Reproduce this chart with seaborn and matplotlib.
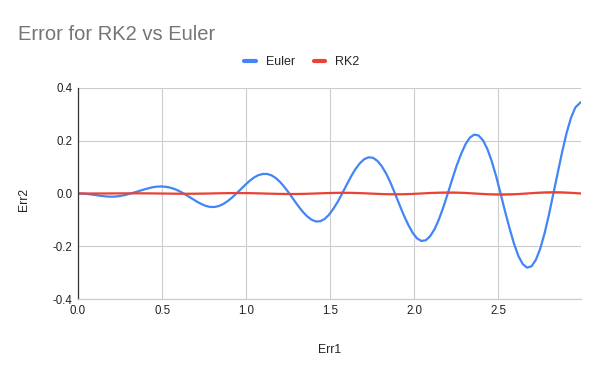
import matplotlib
matplotlib.use("Agg")
import matplotlib.pyplot as plt
import seaborn as sns
import pandas as pd
from matplotlib.lines import Line2D

# Data
err1_euler = [
    0.000, 0.026, 0.052, 0.079, 0.105, 0.131, 0.157, 0.183, 0.209, 0.236,
    0.262, 0.288, 0.314, 0.340, 0.367, 0.393, 0.419, 0.445, 0.471, 0.497,
    0.524, 0.550, 0.576, 0.602, 0.628, 0.654, 0.681, 0.707, 0.733, 0.759,
    0.785, 0.812, 0.838, 0.864, 0.890, 0.916, 0.942, 0.969, 0.995, 1.021,
    1.047, 1.073, 1.100, 1.126, 1.152, 1.178, 1.204, 1.230, 1.257, 1.283,
    1.309, 1.335, 1.361, 1.388, 1.414, 1.440, 1.466, 1.492, 1.518, 1.545,
    1.571, 1.597, 1.623, 1.649, 1.676, 1.702, 1.728, 1.754, 1.780, 1.806,
    1.833, 1.859, 1.885, 1.911, 1.937, 1.964, 1.990, 2.016, 2.042, 2.068,
    2.094, 2.121, 2.147, 2.173, 2.199, 2.225, 2.251, 2.278, 2.304, 2.330,
    2.356, 2.382, 2.409, 2.435, 2.461, 2.487, 2.513, 2.539, 2.566, 2.592,
    2.618, 2.644, 2.670, 2.697, 2.723, 2.749, 2.775, 2.801, 2.827, 2.854,
    2.880, 2.906, 2.932, 2.958, 2.990]

euler = [
    0.0, -0.00045, -0.00175, -0.0037, -0.0061, -0.0085, -0.0105, -0.0118, -0.0121, -0.0108,
    -0.0083, -0.0045, 0.0, 0.0049, 0.0100, 0.0152, 0.0199, 0.0237, 0.0260, 0.0266,
    0.0251, 0.0219, 0.0165, 0.0091, 0.0, -0.0101, -0.0205, -0.0308, -0.0398, -0.0469,
    -0.0510, -0.0512, -0.0476, -0.0399, -0.0290, -0.0155, 0.0, 0.0166, 0.0330, 0.0481,
    0.0606, 0.0696, 0.0740, 0.0739, 0.0684, 0.0576, 0.0420, 0.0224, 0.0, -0.0237,
    -0.0470, -0.0682, -0.0857, -0.0990, -0.1060, -0.1053, -0.0970, -0.0810, -0.0585, -0.0310,
    0.0, 0.0322, 0.0635, 0.0916, 0.1143, 0.1299, 0.1370, 0.1352, 0.1238, 0.1036,
    0.0750, 0.0398, 0.0, -0.0416, -0.0820, -0.1188, -0.1490, -0.1700, -0.1800, -0.1773,
    -0.1619, -0.1347, -0.0970, -0.0512, 0.0, 0.0530, 0.1040, 0.1495, 0.1862, 0.2116,
    0.2230, 0.2198, 0.2009, 0.1676, 0.1210, 0.0640, 0.0, -0.0666, -0.1310, -0.1888,
    -0.2356, -0.2671, -0.2810, -0.2758, -0.2511, -0.2086, -0.1500, -0.0790, 0.0, 0.0816,
    0.1600, 0.2305, 0.2875, 0.3265, 0.3460]

err1_rk2 = [
    0.000, 0.052, 0.105, 0.157, 0.209, 0.262, 0.314, 0.367, 0.419, 0.471,
    0.524, 0.576, 0.628, 0.681, 0.733, 0.785, 0.838, 0.890, 0.942, 0.995,
    1.047, 1.100, 1.152, 1.204, 1.257, 1.309, 1.361, 1.414, 1.466, 1.518,
    1.571, 1.623, 1.676, 1.728, 1.780, 1.833, 1.885, 1.937, 1.990, 2.042,
    2.094, 2.147, 2.199, 2.251, 2.304, 2.356, 2.409, 2.461, 2.513, 2.566,
    2.618, 2.670, 2.723, 2.775, 2.827, 2.880, 2.932, 2.990]

rk2 = [
    0.0, -0.0001, -0.0001, 0.0, 0.0002, 0.0004, 0.0005, 0.0005, 0.0004, 0.0,
    -0.0004, -0.0008, -0.0011, -0.0010, -0.0006, 0.0, 0.0007, 0.0013, 0.0016, 0.0015,
    0.0009, 0.0, -0.0010, -0.0017, -0.0021, -0.0019, -0.0012, 0.0, 0.0012, 0.0022,
    0.0027, 0.0024, 0.0014, 0.0, -0.0015, -0.0027, -0.0032, -0.0029, -0.0017, 0.0,
    0.0018, 0.0031, 0.0037, 0.0033, 0.0020, 0.0, -0.0020, -0.0036, -0.0043, -0.0038,
    -0.0022, 0.0, 0.0023, 0.0041, 0.0048, 0.0042, 0.0025, 0.0]

series_names = ["Euler", "RK2"]
colors = {"Euler": "#4285F4", "RK2": "#EA4335"}
x_ticks = [0.0, 0.5, 1.0, 1.5, 2.0, 2.5]
y_ticks = [-0.4, -0.2, 0.0, 0.2, 0.4]

df = pd.concat([
    pd.DataFrame({"Err1": err1_euler, "Err2": euler, "series": "Euler"}),
    pd.DataFrame({"Err1": err1_rk2, "Err2": rk2, "series": "RK2"}),
])

sns.set_theme(style="white")
plt.rcParams["font.family"] = ["Liberation Sans", "DejaVu Sans"]

fig = plt.figure(figsize=(6, 3.71), dpi=100)
ax = fig.add_axes([0.13, 0.194, 0.838, 0.569])

sns.lineplot(data=df, x="Err1", y="Err2", hue="series", palette=colors,
             hue_order=series_names, linewidth=1.6, ax=ax, legend=False,
             sort=False, estimator=None)

ax.set_xlim(0, err1_euler[-1])
ax.set_ylim(-0.4, 0.4)
ax.set_xticks(x_ticks)
ax.set_xticklabels([f"{t:.1f}" for t in x_ticks])
ax.set_yticks(y_ticks)
ax.set_yticklabels([f"{t:.1f}" for t in y_ticks])
ax.grid(True, color="#cccccc", linewidth=0.8)
ax.set_axisbelow(True)
for s in ["top", "right"]:
    ax.spines[s].set_visible(False)
ax.spines["left"].set_color("#333333")
ax.spines["left"].set_linewidth(0.9)
ax.spines["bottom"].set_color("#cccccc")
ax.spines["bottom"].set_linewidth(0.9)
ax.tick_params(axis="both", length=0, labelsize=8.3, colors="#222222", pad=4)

ax.set_xlabel("Err1", fontsize=8.8, color="#222222", labelpad=20)
ax.set_ylabel("Err2", fontsize=8.8, color="#222222")
ax.yaxis.set_label_coords(-0.095, 0.47)

fig.text(0.03, 0.893, "Error for RK2 vs Euler", fontsize=14.5, color="#757575",
         ha="left", va="baseline")

handles = [Line2D([0], [0], color=colors[n], linewidth=3, solid_capstyle="round")
           for n in series_names]
fig.legend(handles, series_names, loc="center", bbox_to_anchor=(0.503, 0.832),
           ncol=2, frameon=False, fontsize=9, handlelength=0.9, handletextpad=0.8,
           columnspacing=1.5)

fig.savefig("out.png", dpi=100)
